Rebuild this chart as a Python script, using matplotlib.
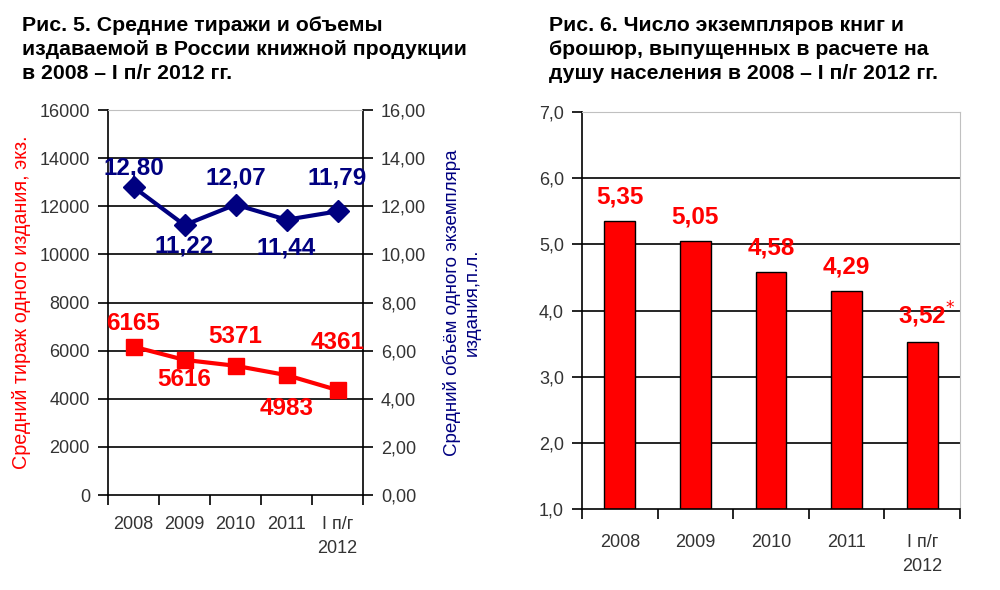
import matplotlib
matplotlib.use("Agg")
import matplotlib.pyplot as plt
from matplotlib.ticker import FuncFormatter

plt.rcParams['font.family'] = ['Liberation Sans', 'DejaVu Sans']

# data
years = ['2008', '2009', '2010', '2011', 'I п/г\n2012']
tirazh = [6165, 5616, 5371, 4983, 4361]           # экз.
obem = [12.80, 11.22, 12.07, 11.44, 11.79]          # п.л.
per_capita = [5.35, 5.05, 4.58, 4.29, 3.52]
per_capita_labels = ['5,35', '5,05', '4,58', '4,29', '3,52$^{*}$']

RED = '#ff0000'
NAVY = '#000080'
TICK_COLOR = '#333333'
GRID_LIGHT = '#c0c0c0'

fig = plt.figure(figsize=(10, 5.9), dpi=100)

# titles
fig.text(0.022, 0.973, 'Рис. 5. Средние тиражи и объемы\nиздаваемой в России книжной продукции\nв 2008 – I п/г 2012 гг.',
         fontsize=15.3, fontweight='bold', va='top', ha='left', linespacing=1.32)
fig.text(0.549, 0.973, 'Рис. 6. Число экземпляров книг и\nброшюр, выпущенных в расчете на\nдушу населения в 2008 – I п/г 2012 гг.',
         fontsize=15.3, fontweight='bold', va='top', ha='left', linespacing=1.32)


def fmt_comma(decimals):
    return FuncFormatter(lambda v, p: f'{v:.{decimals}f}'.replace('.', ','))


def category_axis(a, pad):
    a.set_xlim(-0.5, len(years) - 0.5)
    a.set_xticks([i - 0.5 for i in range(len(years) + 1)])
    a.set_xticklabels([])
    a.set_xticks(range(len(years)), minor=True)
    a.set_xticklabels(years, minor=True, fontsize=13, color=TICK_COLOR, linespacing=1.55)
    a.tick_params(axis='x', which='minor', length=0, pad=pad)
    a.tick_params(axis='x', which='major', length=7, width=1.2, direction='out')
    a.tick_params(axis='y', length=7, width=1.2, direction='out', labelsize=13,
                  labelcolor=TICK_COLOR, pad=6)


# ---- left chart: two lines, two y axes
ax = fig.add_axes([0.108, 0.161, 0.255, 0.6525])
x = range(len(years))
ax.set_ylim(0, 16000)
ax.set_yticks(range(0, 16001, 2000))
for yv in range(2000, 16000, 2000):
    ax.axhline(yv, color='black', lw=1.2, zorder=0)
ax.axhline(16000, color=GRID_LIGHT, lw=1.2, zorder=0)
category_axis(ax, 15)
for s in ['left', 'bottom', 'right']:
    ax.spines[s].set_linewidth(1.2)
ax.spines['top'].set_color(GRID_LIGHT)

ax.plot(x, tirazh, color=RED, lw=3, marker='s', markersize=11, zorder=3)
red_off = [17, -14, 21, -24, 34]
for i, v in enumerate(tirazh):
    ax.annotate(str(v), (i, v), xytext=(0, red_off[i]), textcoords='offset points',
                ha='center', va='center', fontsize=17.5, fontweight='bold', color=RED)
ax.set_ylabel('Средний тираж одного издания, экз.', color=RED, fontsize=14.2, labelpad=6)

ax2 = ax.twinx()
ax2.set_ylim(0, 16)
ax2.set_yticks(range(0, 17, 2))
ax2.yaxis.set_major_formatter(fmt_comma(2))
ax2.tick_params(axis='y', length=7, width=1.2, direction='out', labelsize=13,
                labelcolor=TICK_COLOR, pad=6)
for s in ax2.spines.values():
    s.set_visible(False)
ax2.plot(x, obem, color=NAVY, lw=3, marker='D', markersize=11, zorder=3)
navy_off = [14, -15, 19, -20, 24]
for i, v in enumerate(obem):
    ax2.annotate(f'{v:.2f}'.replace('.', ','), (i, v), xytext=(0, navy_off[i]), textcoords='offset points',
                 ha='center', va='center', fontsize=17.5, fontweight='bold', color=NAVY)
ax2.set_ylabel('Средний объём одного экземпляра\nиздания,п.л.', color=NAVY, fontsize=13.5,
               rotation=90, labelpad=12, linespacing=1.2)

# ---- right chart: bars
bx = fig.add_axes([0.582, 0.137, 0.378, 0.673])
bx.set_ylim(1, 7)
bx.set_yticks(range(1, 8))
bx.yaxis.set_major_formatter(fmt_comma(1))
for yv in range(2, 7):
    bx.axhline(yv, color='black', lw=1.2, zorder=0)
bx.axhline(7, color=GRID_LIGHT, lw=1.2, zorder=0)
bx.bar(range(len(years)), per_capita, width=0.41, color=RED, edgecolor='black', lw=1, zorder=2)
for i, v in enumerate(per_capita):
    bx.annotate(per_capita_labels[i], (i, v), xytext=(0 if i < 4 else 3, 9), textcoords='offset points',
                ha='center', va='bottom', fontsize=17.5, fontweight='bold', color=RED)
category_axis(bx, 18)
bx.spines['left'].set_linewidth(1.2)
bx.spines['bottom'].set_linewidth(1.2)
bx.spines['top'].set_color(GRID_LIGHT)
bx.spines['right'].set_color(GRID_LIGHT)

fig.savefig('out.png', dpi=100)
